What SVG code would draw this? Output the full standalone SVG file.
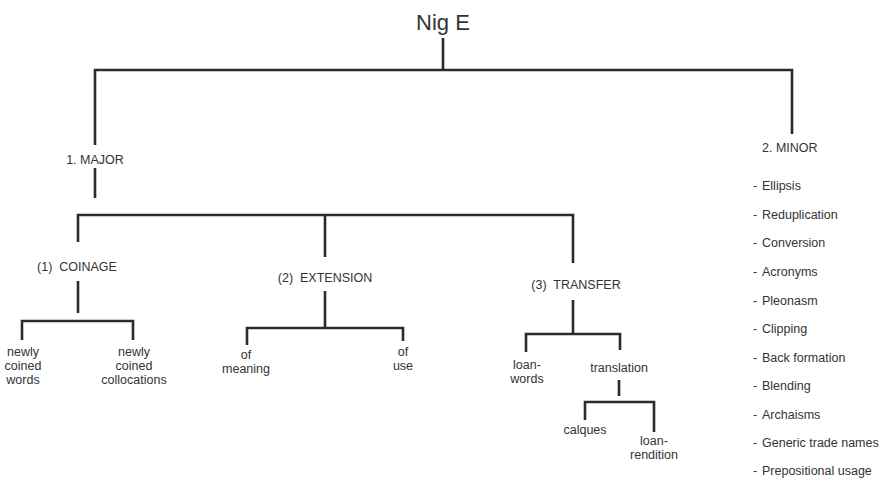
<svg xmlns="http://www.w3.org/2000/svg" width="883" height="478" viewBox="0 0 883 478">
<style>
.t{font-family:"Liberation Sans",Arial,sans-serif;font-size:12.5px;fill:#333;}
.c{text-anchor:middle;}
.title{font-size:22px;}
.ln{stroke:#2b2b2b;stroke-width:2.6;fill:none;stroke-linecap:butt;}
</style>
<rect width="883" height="478" fill="#fff"/>
<g id="connectors" class="ln">
<path d="M443 38V70M95 70H792M95 68.7V145M792 68.7V134"/>
<path d="M95 168V198"/>
<path d="M78 215H573M78 213.7V242M325 213.7V257M573 213.7V263"/>
<path d="M78 281V313M22 321H133M22 319.7V340M133 319.7V340"/>
<path d="M325 291V328M247 328H403M247 326.7V345M403 326.7V341"/>
<path d="M573 300V334M526 334H620M526 332.7V352M620 332.7V350"/>
<path d="M619 380V396M585 402H654M585 400.7V420M654 400.7V432"/>
</g>
<g id="root"><text class="t c title" x="443" y="30">Nig E</text></g>
<g id="major"><text class="t c" x="95" y="164">1. MAJOR</text></g>
<g id="minor"><text class="t" x="762" y="152">2. MINOR</text></g>
<g id="coinage"><text class="t c" x="77" y="271" xml:space="preserve">(1)  COINAGE</text></g>
<g id="extension"><text class="t c" x="325" y="282" xml:space="preserve">(2)  EXTENSION</text></g>
<g id="transfer"><text class="t c" x="576" y="289" xml:space="preserve">(3)  TRANSFER</text></g>
<g id="newly-coined-words"><text class="t c" x="23" y="356">newly<tspan x="23" dy="14">coined</tspan><tspan x="23" dy="14">words</tspan></text></g>
<g id="newly-coined-collocations"><text class="t c" x="134" y="356">newly<tspan x="134" dy="14">coined</tspan><tspan x="134" dy="14">collocations</tspan></text></g>
<g id="of-meaning"><text class="t c" x="246" y="359">of<tspan x="246" dy="14">meaning</tspan></text></g>
<g id="of-use"><text class="t c" x="403" y="356">of<tspan x="403" dy="14">use</tspan></text></g>
<g id="loan-words"><text class="t c" x="527" y="369">loan-<tspan x="527" dy="14">words</tspan></text></g>
<g id="translation"><text class="t c" x="619" y="372">translation</text></g>
<g id="calques"><text class="t c" x="585" y="434">calques</text></g>
<g id="loan-rendition"><text class="t c" x="654" y="445">loan-<tspan x="654" dy="14">rendition</tspan></text></g>
<g id="minor-list" class="t">
<text x="753" y="190">-</text><text x="762" y="190">Ellipsis</text>
<text x="753" y="218.5">-</text><text x="762" y="218.5">Reduplication</text>
<text x="753" y="247">-</text><text x="762" y="247">Conversion</text>
<text x="753" y="276">-</text><text x="762" y="276">Acronyms</text>
<text x="753" y="305">-</text><text x="762" y="305">Pleonasm</text>
<text x="753" y="333">-</text><text x="762" y="333">Clipping</text>
<text x="753" y="361.5">-</text><text x="762" y="361.5">Back formation</text>
<text x="753" y="390">-</text><text x="762" y="390">Blending</text>
<text x="753" y="418.5">-</text><text x="762" y="418.5">Archaisms</text>
<text x="753" y="447">-</text><text x="762" y="447">Generic trade names</text>
<text x="753" y="475">-</text><text x="762" y="475">Prepositional usage</text>
</g>
</svg>
